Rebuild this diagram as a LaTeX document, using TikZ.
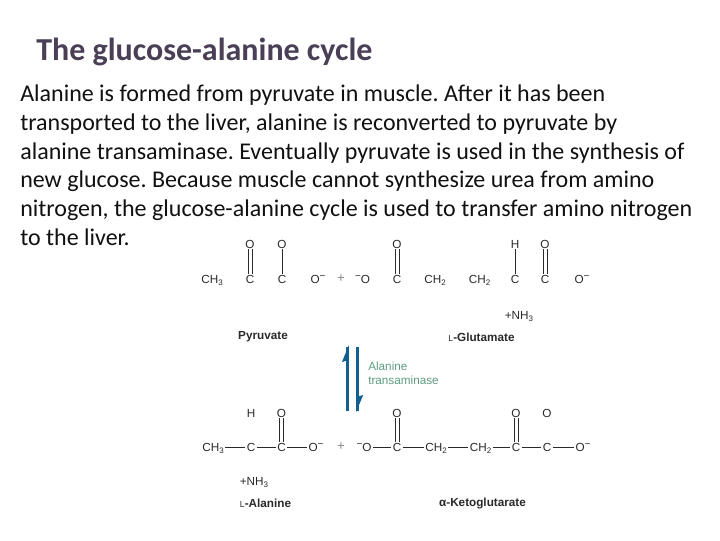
\documentclass[tikz,border=0pt]{standalone}
\usepackage{fontspec}
\setmainfont{Carlito}
\newfontfamily\chemfont{Liberation Sans}
\definecolor{titlecol}{HTML}{4A3F56}
\definecolor{bodycol}{HTML}{111111}
\definecolor{chemcol}{HTML}{2A2A2A}
\definecolor{arrowcol}{HTML}{12608F}
\definecolor{enzcol}{HTML}{5E9C80}
\definecolor{pluscol}{HTML}{8A8A8A}
\tikzset{
  x=0.75pt,y=-0.75pt,
  titletext/.style={anchor=base west,inner sep=0,font=\fontsize{24pt}{28pt}\selectfont\bfseries,text=titlecol},
  bodytext/.style={anchor=base west,inner sep=0,font=\fontsize{18pt}{22pt}\selectfont\frenchspacing,text=bodycol},
  atom/.style={inner sep=0.8pt,text height=6.2pt,text depth=0pt,font=\chemfont\fontsize{8.8pt}{10pt}\selectfont,text=chemcol},
  namelabel/.style={inner sep=0,font=\chemfont\fontsize{8.8pt}{10pt}\selectfont\bfseries,text=chemcol},
  enzyme/.style={anchor=base west,inner sep=0,font=\chemfont\fontsize{8.8pt}{10pt}\selectfont,text=enzcol},
  bond/.style={draw=chemcol,line width=0.5pt},
  pluslabel/.style={inner sep=0,font=\chemfont\fontsize{10pt}{11pt}\selectfont,text=pluscol},
  shaft/.style={draw=arrowcol,line width=2.1pt},
  headfill/.style={fill=arrowcol,draw=none},
}
\newcommand{\dbond}[2]{%
  \draw[bond] ([xshift=-1.5pt]#1.south) -- ([xshift=-1.5pt]#2.north);
  \draw[bond] ([xshift=1.5pt]#1.south) -- ([xshift=1.5pt]#2.north);}
\newcommand{\chgsup}{\raisebox{2.4pt}{\fontsize{7.5pt}{8pt}\selectfont −}}
\newcommand{\atsub}[1]{\raisebox{-1.6pt}{\fontsize{6pt}{7pt}\selectfont #1}}
\begin{document}
\begin{tikzpicture}
\useasboundingbox (0,0) rectangle (720,540);
\fill[white] (0,0) rectangle (720,540);
% heading and paragraph
\node[titletext] (title) at (36,60) {The glucose-alanine cycle};
\node[bodytext] (l1) at (20,101) {Alanine is formed from pyruvate in muscle. After it has been};
\node[bodytext] (l2) at (20,130) {transported to the liver, alanine is reconverted to pyruvate by};
\node[bodytext] (l3) at (20,159) {alanine transaminase. Eventually pyruvate is used in the synthesis of};
\node[bodytext] (l4) at (20,187) {new glucose. Because muscle cannot synthesize urea from amino};
\node[bodytext] (l5) at (20,216) {nitrogen, the glucose-alanine cycle is used to transfer amino nitrogen};
\node[bodytext] (l6) at (20,245) {to the liver.};
% top row
\node[atom] (tch3) at (212,279) {CH\atsub{3}};
\node[atom] (tc1) at (250,279) {C};
\node[atom] (to1) at (250,244) {O};
\node[atom] (tc2) at (282,279) {C};
\node[atom] (to2) at (282,244) {O};
\node[atom] (to3) at (318,279) {O\chgsup};
\node[pluslabel] (tplus) at (341,279) {+};
\node[atom] (to4) at (362.5,279) {\chgsup O};
\node[atom] (tc3) at (397,279) {C};
\node[atom] (to5) at (397,244) {O};
\node[atom] (tch2a) at (435,279) {CH\atsub{2}};
\node[atom] (tch2b) at (479.5,279) {CH\atsub{2}};
\node[atom] (tc4) at (515,279) {C};
\node[atom] (th) at (515,244) {H};
\node[atom] (tc5) at (545,279) {C};
\node[atom] (to6) at (545,244) {O};
\node[atom] (to7) at (582,279) {O\chgsup};
\node[atom] (tnh3) at (519,315) {+NH\atsub{3}};
\dbond{to1}{tc1}
\dbond{to5}{tc3}
\dbond{to6}{tc5}
\draw[bond] (to2) -- (tc2);
\draw[bond] (th) -- (tc4);
\node[namelabel] (pyr) at (263,337) {Pyruvate};
\node[namelabel] (glu) at (481.5,337) {{\fontsize{6.5pt}{7pt}\selectfont\mdseries L}-Glutamate};
% equilibrium arrows
\coordinate (ups) at (347.5,411);
\coordinate (upe) at (347.5,347);
\coordinate (dns) at (357.5,347);
\coordinate (dne) at (357.5,411);
\draw[shaft] (ups) -- (upe);
\draw[shaft] (dns) -- (dne);
\fill[headfill] (348.9,345) -- (342,362) -- (348.9,360) -- cycle;
\fill[headfill] (356.1,412) -- (363.2,395) -- (356.1,397) -- cycle;
\node[enzyme] (en1) at (368,370) {Alanine};
\node[enzyme] (en2) at (368,384) {transaminase};
% bottom row
\node[atom] (bch3) at (213,447) {CH\atsub{3}};
\node[atom] (bc1) at (251,447) {C};
\node[atom] (bh) at (251,413) {H};
\node[atom] (bc2) at (281.5,447) {C};
\node[atom] (bo1) at (281.5,413) {O};
\node[atom] (bo2) at (316,447) {O\chgsup};
\node[pluslabel] (bplus) at (341,447) {+};
\node[atom] (bo3) at (364,447) {\chgsup O};
\node[atom] (bc3) at (397,447) {C};
\node[atom] (bo4) at (397,413) {O};
\node[atom] (bch2a) at (436,447) {CH\atsub{2}};
\node[atom] (bch2b) at (480.5,447) {CH\atsub{2}};
\node[atom] (bc4) at (516,447) {C};
\node[atom] (bo5) at (516,413) {O};
\node[atom] (bc5) at (547,447) {C};
\node[atom] (bo6) at (547,413) {O};
\node[atom] (bo7) at (583,447) {O\chgsup};
\node[atom] (bnh3) at (254,481) {+NH\atsub{3}};
\dbond{bo1}{bc2}
\dbond{bo4}{bc3}
\dbond{bo5}{bc4}
\foreach \a/\b in {bch3/bc1,bc1/bc2,bc2/bo2,bo3/bc3,bc3/bch2a,bch2a/bch2b,bch2b/bc4,bc4/bc5,bc5/bo7}
  \draw[bond] (\a) -- (\b);
\node[namelabel] (ala) at (265.5,503) {{\fontsize{6.5pt}{7pt}\selectfont\mdseries L}-Alanine};
\node[namelabel] (keto) at (482.5,503) {α-Ketoglutarate};
\end{tikzpicture}
\end{document}
